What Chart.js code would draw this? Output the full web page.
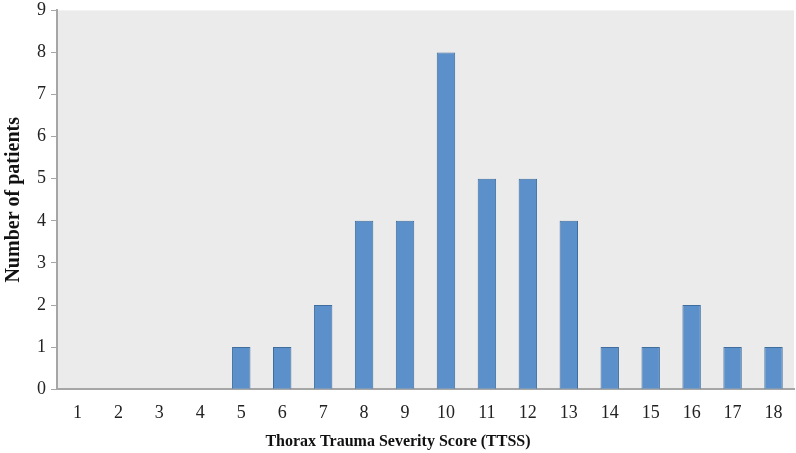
<!DOCTYPE html>
<html>
<head>
<meta charset="utf-8">
<script src="https://cdn.jsdelivr.net/npm/chart.js@4"></script>
<style>
  html, body { margin: 0; padding: 0; background: #ffffff; }
  #wrap { width: 796px; height: 453px; }
</style>
</head>
<body>
<div id="wrap"><canvas id="ChartCanvas"></canvas></div>
<script>
// Chart data
const scores = ['1', '2', '3', '4', '5', '6', '7', '8', '9', '10', '11', '12', '13', '14', '15', '16', '17', '18'];
const patients = [0, 0, 0, 0, 1, 1, 2, 4, 4, 8, 5, 5, 4, 1, 1, 2, 1, 1];
const yTicks = [0, 1, 2, 3, 4, 5, 6, 7, 8, 9];

// Gray plot background
const plotBackground = {
    id: 'plotBackground',
    beforeDraw(chart) {
        const a = chart.chartArea;
        const c = chart.ctx;
        c.save();
        c.fillStyle = '#ebebeb';
        c.fillRect(a.left, a.top, a.right - a.left, a.bottom - a.top);
        c.restore();
    }
};

const serif = "'Liberation Serif', 'DejaVu Serif', serif";

const ctx = document.getElementById('ChartCanvas').getContext('2d');
new Chart(ctx, {
    type: 'bar',
    data: {
        labels: scores,
        datasets: [{
            label: 'Number of patients',
            data: patients,
            backgroundColor: '#5b90ca',
            borderColor: '#3f6e9e',
            borderWidth: 1,
            barPercentage: 0.45,
            categoryPercentage: 1.0
        }]
    },
    options: {
        responsive: true,
        maintainAspectRatio: false,
        animation: false,
        layout: { padding: { top: -10, right: 2, left: 2, bottom: 2 } },
        plugins: {
            legend: { display: false },
            tooltip: { enabled: false },
            // x axis title is centred on the whole picture in the reference
            title: {
                display: true,
                position: 'bottom',
                text: 'Thorax Trauma Severity Score (TTSS)',
                color: '#111',
                font: { family: serif, size: 16, weight: 'bold' },
                padding: { top: 1, bottom: 0 }
            }
        },
        scales: {
            x: {
                grid: { display: false, drawOnChartArea: false, offset: true, tickLength: 6, color: '#a6a6a6' },
                border: { color: '#a6a6a6', width: 2 },
                ticks: { color: '#222', font: { family: serif, size: 18 }, padding: 7 }
            },
            y: {
                min: 0,
                max: 9,
                afterBuildTicks(axis) { axis.ticks = yTicks.map(v => ({ value: v })); },
                grid: { drawOnChartArea: false, tickLength: 6, color: '#a6a6a6' },
                border: { color: '#a6a6a6', width: 2 },
                ticks: { color: '#222', font: { family: serif, size: 18, lineHeight: 0.6 }, padding: 5 },
                title: { display: true, text: 'Number of patients', color: '#111',
                         font: { family: serif, size: 20, weight: 'bold' }, padding: { top: 0, bottom: 6 } }
            }
        }
    },
    plugins: [plotBackground]
});
</script>
</body>
</html>
